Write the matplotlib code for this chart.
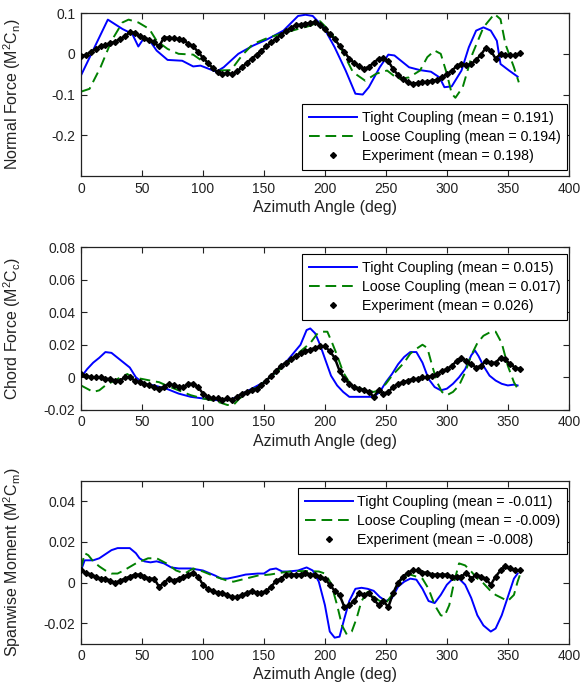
import numpy as np
import matplotlib
matplotlib.use('Agg')
import matplotlib.pyplot as plt

plt.rcParams['font.family'] = ['Liberation Sans', 'DejaVu Sans']
plt.rcParams['mathtext.default'] = 'regular'

# ---------------- Normal force ----------------
cn_tight_deg = [0, 22, 34, 42, 47, 51, 56, 62, 71, 83, 92, 98, 111, 117, 129, 141, 153, 166, 178, 184,
                190, 199, 208, 217, 225, 231, 236, 245, 252, 257, 269, 278, 287, 294, 298, 304, 312, 318,
                324, 330, 336, 341, 344, 351, 358]
cn_tight = [-0.053, 0.084, 0.061, 0.049, 0.018, 0.036, 0.034, 0.008, -0.015, -0.017, -0.031, -0.029,
            -0.044, -0.033, 0.0, 0.02, 0.036, 0.057, 0.093, 0.096, 0.093, 0.065, 0.016, -0.041, -0.098,
            -0.1, -0.082, -0.033, -0.002, -0.004, -0.033, -0.04, -0.044, -0.058, -0.082, -0.08, -0.041,
            0.016, 0.057, 0.065, 0.057, 0.032, -0.025, -0.041, -0.056]

cn_loose_deg = [0, 7, 16, 25, 34, 39, 47, 56, 62, 71, 80, 92, 101, 112, 123, 132, 141, 153, 166, 178,
                188, 196, 205, 214, 223, 233, 242, 251, 260, 269, 278, 284, 290, 295, 300, 304, 307, 313,
                321, 330, 339, 344, 348, 355, 359]
cn_loose = [-0.093, -0.086, -0.033, 0.032, 0.077, 0.084, 0.077, 0.061, 0.032, 0.012, 0.0, -0.002,
            -0.021, -0.041, -0.04, -0.004, 0.024, 0.039, 0.051, 0.061, 0.069, 0.08, 0.053, 0.008,
            -0.045, -0.066, -0.049, -0.041, -0.062, -0.058, -0.041, -0.008, 0.008, 0.0, -0.049, -0.098,
            -0.108, -0.082, 0.0, 0.065, 0.098, 0.085, 0.024, -0.033, -0.07]

exp_deg = list(range(0, 361, 4))
cn_exp = [-0.006, -0.003, 0.005, 0.012, 0.018, 0.022, 0.026, 0.03, 0.036, 0.043, 0.053, 0.052, 0.043,
          0.04, 0.034, 0.028, 0.018, 0.04, 0.04, 0.038, 0.036, 0.033, 0.025, 0.018, 0.005, -0.01,
          -0.022, -0.035, -0.045, -0.049, -0.048, -0.05, -0.043, -0.033, -0.022, -0.012, -0.002, 0.008,
          0.018, 0.028, 0.037, 0.047, 0.056, 0.064, 0.07, 0.072, 0.074, 0.076, 0.078, 0.07, 0.06, 0.048,
          0.036, 0.02, 0.005, -0.012, -0.022, -0.03, -0.037, -0.032, -0.022, -0.012, -0.01, -0.018,
          -0.038, -0.052, -0.062, -0.07, -0.073, -0.072, -0.07, -0.068, -0.066, -0.064, -0.058, -0.05,
          -0.042, -0.03, -0.025, -0.028, -0.025, -0.015, -0.002, 0.015, 0.008, -0.012, 0.0, -0.002,
          -0.004, -0.003, 0.001]

# ---------------- Chord force ----------------
cc_tight_deg = [0, 5, 10, 15, 20, 25, 30, 35, 40, 45, 50, 55, 60, 70, 80, 90, 100, 110, 120, 125, 130,
                140, 150, 160, 170, 180, 185, 188, 192, 196, 200, 205, 210, 215, 220, 230, 240, 245, 250,
                255, 260, 265, 270, 275, 280, 285, 290, 295, 300, 305, 310, 315, 320, 323, 326, 330, 335,
                340, 345, 350, 355, 358]
cc_tight = [0.0, 0.005, 0.009, 0.012, 0.0155, 0.015, 0.012, 0.009, 0.006, 0.0, -0.003, -0.0045, -0.005,
            -0.007, -0.01, -0.012, -0.013, -0.014, -0.014, -0.013, -0.011, -0.007, -0.003, 0.003, 0.011,
            0.02, 0.029, 0.03, 0.027, 0.02, 0.0115, 0.001, -0.005, -0.009, -0.012, -0.012, -0.012, -0.009,
            -0.003, 0.002, 0.008, 0.0125, 0.0155, 0.0155, 0.009, -0.001, -0.006, -0.008, -0.007, -0.004,
            0.0, 0.005, 0.0135, 0.0165, 0.013, 0.007, 0.001, -0.002, -0.004, -0.005, -0.0045, -0.005]

cc_loose_deg = [0, 5, 10, 15, 20, 25, 30, 35, 38, 42, 50, 60, 64, 70, 80, 90, 100, 110, 120, 125, 130,
                140, 150, 160, 170, 180, 188, 194, 198, 202, 206, 210, 215, 220, 225, 230, 235, 240, 244,
                250, 255, 260, 265, 270, 275, 280, 284, 288, 292, 296, 300, 305, 310, 315, 320, 325, 330,
                335, 340, 345, 350, 355, 358]
cc_loose = [-0.005, -0.007, -0.009, -0.008, -0.005, -0.003, -0.001, 0.001, 0.002, 0.0, -0.001, -0.0025,
            -0.003, -0.005, -0.008, -0.011, -0.013, -0.0145, -0.017, -0.017, -0.013, -0.008, -0.003,
            0.003, 0.009, 0.016, 0.021, 0.027, 0.028, 0.028, 0.021, 0.0135, 0.003, -0.003, -0.006, -0.007,
            -0.008, -0.009, -0.008, -0.004, 0.001, 0.005, 0.009, 0.0145, 0.0175, 0.02, 0.018, 0.007,
            -0.003, -0.009, -0.011, -0.009, -0.005, 0.003, 0.0135, 0.021, 0.0255, 0.0275, 0.028, 0.021,
            0.007, -0.003, -0.007]

cc_exp = [0.002, 0.001, 0.0, 0.0, 0.0, -0.001, -0.001, -0.002, -0.002, 0.0, 0.0, -0.002, -0.003, -0.004,
          -0.005, -0.006, -0.007, -0.006, -0.004, -0.005, -0.006, -0.006, -0.004, -0.004, -0.006, -0.01,
          -0.012, -0.013, -0.013, -0.014, -0.013, -0.014, -0.012, -0.01, -0.009, -0.008, -0.007, -0.005,
          -0.002, 0.001, 0.004, 0.007, 0.009, 0.011, 0.013, 0.015, 0.016, 0.017, 0.018, 0.019, 0.019,
          0.016, 0.012, 0.004, -0.001, -0.004, -0.006, -0.007, -0.008, -0.009, -0.012, -0.008, -0.01,
          -0.009, -0.006, -0.004, -0.003, -0.002, -0.001, -0.001, 0.0, 0.0, 0.001, 0.002, 0.004, 0.005,
          0.007, 0.01, 0.012, 0.01, 0.008, 0.006, 0.007, 0.01, 0.009, 0.009, 0.012, 0.011, 0.008, 0.006,
          0.005]

# ---------------- Spanwise moment ----------------
cm_tight_deg = [0, 3, 10, 15, 20, 25, 30, 40, 45, 48, 52, 57, 62, 68, 74, 80, 90, 100, 110, 115, 120,
                128, 135, 145, 150, 155, 160, 165, 170, 178, 185, 190, 195, 200, 204, 208, 212, 216, 220,
                225, 230, 235, 240, 245, 250, 255, 260, 265, 270, 275, 280, 285, 290, 295, 300, 305, 310,
                315, 320, 325, 330, 336, 340, 345, 350, 355, 358]
cm_tight = [0.006, 0.011, 0.011, 0.012, 0.014, 0.016, 0.017, 0.017, 0.0145, 0.012, 0.0105, 0.01, 0.0105,
            0.0095, 0.0075, 0.007, 0.007, 0.006, 0.0035, 0.002, 0.002, 0.003, 0.004, 0.0045, 0.0045,
            0.0065, 0.007, 0.0055, 0.0055, 0.006, 0.0075, 0.006, 0.0005, -0.011, -0.024, -0.027, -0.0265,
            -0.0175, -0.009, -0.003, -0.0025, -0.003, -0.004, -0.007, -0.009, -0.0075, -0.002, 0.0005,
            0.002, 0.0015, -0.003, -0.009, -0.01, -0.006, -0.001, 0.002, 0.002, -0.001, -0.0075, -0.016,
            -0.021, -0.024, -0.0225, -0.016, -0.007, 0.002, 0.0045]

cm_loose_deg = [0, 3, 6, 10, 15, 20, 25, 30, 35, 45, 55, 62, 70, 78, 85, 92, 100, 110, 120, 125, 135,
                145, 155, 165, 175, 185, 195, 200, 205, 210, 214, 218, 222, 226, 230, 235, 240, 245, 250,
                255, 260, 265, 270, 275, 280, 285, 290, 295, 298, 302, 306, 310, 315, 320, 325, 330, 335,
                340, 345, 350, 355, 358, 360]
cm_loose = [0.007, 0.0145, 0.0135, 0.0105, 0.008, 0.006, 0.0045, 0.0045, 0.006, 0.0095, 0.012, 0.012,
            0.0095, 0.006, 0.0045, 0.007, 0.0055, 0.003, 0.001, 0.0005, 0.002, 0.0035, 0.004, 0.005,
            0.0057, 0.0057, 0.0055, 0.0045, -0.0003, -0.011, -0.021, -0.0255, -0.024, -0.0175, -0.009,
            -0.0045, -0.007, -0.009, -0.01, -0.006, -0.0003, 0.003, 0.004, 0.003, 0.002, -0.003, -0.011,
            -0.016, -0.0165, -0.011, 0.0005, 0.0095, 0.0085, 0.0055, 0.002, -0.0003, -0.0035, -0.006,
            -0.0075, -0.009, -0.006, 0.0005, 0.004]

cm_exp = [0.006, 0.005, 0.004, 0.003, 0.002, 0.002, 0.001, 0.0, 0.001, 0.002, 0.003, 0.004, 0.004, 0.003,
          0.002, 0.002, -0.002, 0.0, 0.002, 0.001, 0.002, 0.003, 0.004, 0.005, 0.003, -0.001, -0.003,
          -0.004, -0.005, -0.005, -0.006, -0.007, -0.007, -0.006, -0.005, -0.004, -0.005, -0.005, -0.004,
          -0.002, 0.001, 0.002, 0.004, 0.004, 0.004, 0.004, 0.005, 0.004, 0.004, 0.003, 0.002, -0.001,
          -0.004, -0.006, -0.012, -0.011, -0.009, -0.005, -0.006, -0.005, -0.008, -0.011, -0.009, -0.012,
          -0.005, 0.0, 0.003, 0.005, 0.006, 0.006, 0.005, 0.005, 0.004, 0.004, 0.004, 0.004, 0.003, 0.003,
          0.003, 0.005, 0.002, 0.004, 0.003, 0.002, -0.001, 0.003, 0.006, 0.008, 0.007, 0.006, 0.006]

panels = [
    dict(ylabel='Normal Force (M$^2$C$_n$)', ylim=(-0.3, 0.1),
         yticks=[-0.2, -0.1, 0, 0.1], yticklabels=['-0.2', '-0.1', '0', '0.1'],
         tight=(cn_tight_deg, cn_tight), loose=(cn_loose_deg, cn_loose), exp=cn_exp,
         means=('0.191', '0.194', '0.198'), loc='lower right', anchor=(0.997, 0.035)),
    dict(ylabel='Chord Force (M$^2$C$_c$)', ylim=(-0.02, 0.08),
         yticks=[-0.02, 0, 0.02, 0.04, 0.06, 0.08],
         yticklabels=['-0.02', '0', '0.02', '0.04', '0.06', '0.08'],
         tight=(cc_tight_deg, cc_tight), loose=(cc_loose_deg, cc_loose), exp=cc_exp,
         means=('0.015', '0.017', '0.026'), loc='upper right', anchor=(0.997, 0.955)),
    dict(ylabel='Spanwise Moment (M$^2$C$_m$)', ylim=(-0.03, 0.05),
         yticks=[-0.02, 0, 0.02, 0.04], yticklabels=['-0.02', '0', '0.02', '0.04'],
         tight=(cm_tight_deg, cm_tight), loose=(cm_loose_deg, cm_loose), exp=cm_exp,
         means=('-0.011', '-0.009', '-0.008'), loc='upper right', anchor=(0.997, 0.955)),
]

fig = plt.figure(figsize=(5.87, 6.90), dpi=100)
bottoms = [0.745, 0.406, 0.067]

for p, b in zip(panels, bottoms):
    ax = fig.add_axes([0.138, b, 0.831, 0.236])
    h1, = ax.plot(p['tight'][0], p['tight'][1], color='#0000ff', lw=1.4)
    h2, = ax.plot(p['loose'][0], p['loose'][1], color='#008000', lw=1.4, ls=(0, (5.5, 3)))
    ax.plot(exp_deg, p['exp'], color='black', lw=1.8, zorder=3)
    h3, = ax.plot(exp_deg, p['exp'], ls='none', marker='D', ms=3, color='black', zorder=4)
    ax.set_xlim(0, 400)
    ax.set_ylim(*p['ylim'])
    ax.set_xticks(range(0, 401, 50))
    ax.set_yticks(p['yticks'])
    ax.set_yticklabels(p['yticklabels'])
    ax.tick_params(direction='in', top=True, right=True, length=4, labelsize=10,
                   colors='#222222', pad=4)
    for s in ax.spines.values():
        s.set_linewidth(0.9)
        s.set_color('#222222')
    ax.set_xlabel('Azimuth Angle (deg)', fontsize=11.5, color='#222222', labelpad=3)
    ax.set_ylabel(p['ylabel'], fontsize=11.5, color='#222222')
    ax.yaxis.set_label_coords(-0.118, 0.5)
    leg = ax.legend([h1, h2, h3],
                    ['Tight Coupling (mean = %s)' % p['means'][0],
                     'Loose Coupling (mean = %s)' % p['means'][1],
                     'Experiment (mean = %s)' % p['means'][2]],
                    loc=p['loc'], bbox_to_anchor=p['anchor'], borderaxespad=0,
                    fontsize=10.2, handlelength=3.4, handletextpad=0.3, labelspacing=0.35,
                    fancybox=False, edgecolor='black', framealpha=1, borderpad=0.5)
    leg.get_frame().set_linewidth(0.8)

fig.savefig('out.png', dpi=100)
